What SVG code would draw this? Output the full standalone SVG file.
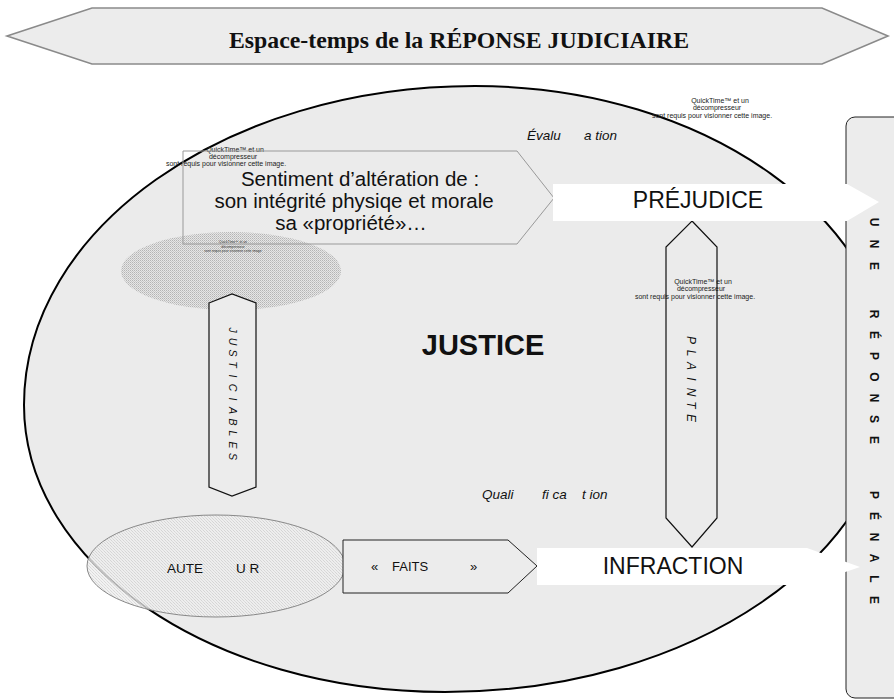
<svg xmlns="http://www.w3.org/2000/svg" width="894" height="700" viewBox="0 0 894 700">
<style>
.sans{font-family:"Liberation Sans",Arial,sans-serif}
.qt{font-family:"Liberation Sans",Arial,sans-serif;font-size:7px;fill:#222;text-anchor:middle}
.qtt{font-family:"Liberation Sans",Arial,sans-serif;font-size:3.4px;fill:#333;text-anchor:middle}
.ital{font-family:"Liberation Sans",Arial,sans-serif;font-style:italic;font-size:13.5px;fill:#111}
.big{font-family:"Liberation Sans",Arial,sans-serif;font-size:23px;fill:#111;text-anchor:middle}
.vert{font-family:"Liberation Sans",Arial,sans-serif;fill:#111;text-anchor:middle}
.dbl{fill:#ececec;stroke:#111;stroke-width:1.2}
</style>
<defs>
<pattern id="hatch1" patternUnits="userSpaceOnUse" width="2" height="2">
<rect width="2" height="2" fill="#e6e6e6"/>
<rect width="1" height="1" fill="#b4b4b4"/>
<rect x="1" y="1" width="1" height="1" fill="#c8c8c8"/>
</pattern>
<pattern id="hatch2" patternUnits="userSpaceOnUse" width="3" height="3">
<rect width="3" height="3" fill="#efefef"/>
<rect width="1" height="1" fill="#cfcfcf"/>
<rect x="1" y="1" width="1" height="1" fill="#d8d8d8"/>
<rect x="2" y="2" width="1" height="1" fill="#cfcfcf"/>
</pattern>
</defs>
<rect width="894" height="700" fill="#ffffff"/>

<g id="banner">
<polygon points="7,36 92,8 822,8 888,36 822,64 92,64" fill="#ececec" stroke="#8a8a8a" stroke-width="1.6"/>
<text x="459" y="48" font-family="'Liberation Serif','Times New Roman',serif" font-weight="bold" font-size="23.8" text-anchor="middle" fill="#111">Espace-temps de la RÉPONSE JUDICIAIRE</text>
</g>

<g id="justice">
<path d="M475,86 C706,86 893,220 893,385 C893,555 692,692 445,692 C212,692 24,564 24,405 C24,229 226,86 475,86 Z" fill="#ebebeb" stroke="#000" stroke-width="2"/>
<text x="483" y="355" class="sans" font-size="29" font-weight="bold" text-anchor="middle" fill="#111">JUSTICE</text>
</g>

<g id="quicktime-top">
<text class="qt" x="720" y="103">QuickTime™ et un</text>
<text class="qt" x="717" y="110">décompresseur</text>
<text class="qt" x="712" y="118">sont requis pour visionner cette image.</text>
</g>

<g id="evaluation">
<text class="ital" y="140"><tspan x="527">Évalu </tspan><tspan x="584">a tion</tspan></text>
</g>

<g id="perception">
<ellipse cx="231" cy="271" rx="110" ry="39" fill="url(#hatch1)"/>
<text class="qtt" x="233" y="243">QuickTime™ et un</text>
<text class="qtt" x="233" y="247.5">décompresseur</text>
<text class="qtt" x="233" y="252">sont requis pour visionner cette image</text>
</g>

<g id="sentiment">
<text class="qt" x="235" y="152">QuickTime™ et un</text>
<text class="qt" x="233" y="159">décompresseur</text>
<text class="qt" x="226" y="166">sont requis pour visionner cette image.</text>
<polygon points="183,151 517,151 554,198 517,244 183,244" fill="none" stroke="#999" stroke-width="1"/>
<text class="sans" font-size="20.5" fill="#111" text-anchor="middle"><tspan x="360" y="186">Sentiment d’altération de :</tspan><tspan x="354" y="208">son intégrité physiqe et morale</tspan><tspan x="351" y="230">sa «propriété»…</tspan></text>
</g>

<g id="quicktime-plainte">
<text class="qt" x="703" y="284">QuickTime™ et un</text>
<text class="qt" x="701" y="291">décompresseur</text>
<text class="qt" x="695" y="299">sont requis pour visionner cette image.</text>
</g>

<g id="qualification">
<text class="ital" y="499"><tspan x="482">Quali </tspan><tspan x="542">fi ca </tspan><tspan x="582">t ion</tspan></text>
</g>

<g id="connectors">
<g id="justiciables">
<polygon class="dbl" points="209,303 232,294 256,303 256,487 232,496 209,487"/>
<text class="vert" font-size="10.5" font-style="italic" transform="translate(229,0) rotate(90)" y="0" x="330 341.5 353 364.5 376 387.5 399 410.5 422 433.5 445 456.5">JUSTICIABLES</text>
</g>
<g id="plainte">
<polygon points="692,221 717,247 717,518 692,547 666,518 666,247" fill="none" stroke="#111" stroke-width="1.2"/>
<text class="vert" font-size="12" font-style="italic" transform="translate(687,0) rotate(90)" y="0" x="340 353 366 379 392 405 418">PLAINTE</text>
</g>
</g>

<g id="reponse-penale">
<rect x="846" y="117" width="70" height="581" rx="9" fill="#ececec" stroke="#222" stroke-width="1"/>
<text class="vert" font-size="12" font-weight="bold" transform="translate(870,0) rotate(90)" y="0" x="222 244 266 290 314 335 356 377 398 419 440 468 495 516 537 558 579 600">UNE RÉPONSE PÉNALE</text>
</g>

<g id="prejudice">
<polygon points="553,184 847,184 879,202 847,221 553,221" fill="#ffffff"/>
<text class="big" x="698" y="208" font-size="23.5">PRÉJUDICE</text>
</g>

<g id="auteur">
<ellipse cx="216" cy="566" rx="129" ry="51" fill="url(#hatch2)" fill-opacity="0.8" stroke="#888" stroke-width="1"/>
<text class="sans" font-size="13.5" fill="#111" y="573"><tspan x="167">AUTE </tspan><tspan x="236">U R</tspan></text>
</g>

<g id="faits">
<polygon points="343,540 508,540 537,566 508,593 343,593" fill="#ececec" stroke="#222" stroke-width="1"/>
<text class="sans" font-size="13" fill="#111" y="571"><tspan x="371">« </tspan><tspan x="392">FAITS </tspan><tspan x="470">»</tspan></text>
</g>

<g id="infraction">
<polygon points="537,548 807,548 860,567 807,585 537,585" fill="#ffffff"/>
<text class="big" x="673" y="574">INFRACTION</text>
</g>
</svg>
